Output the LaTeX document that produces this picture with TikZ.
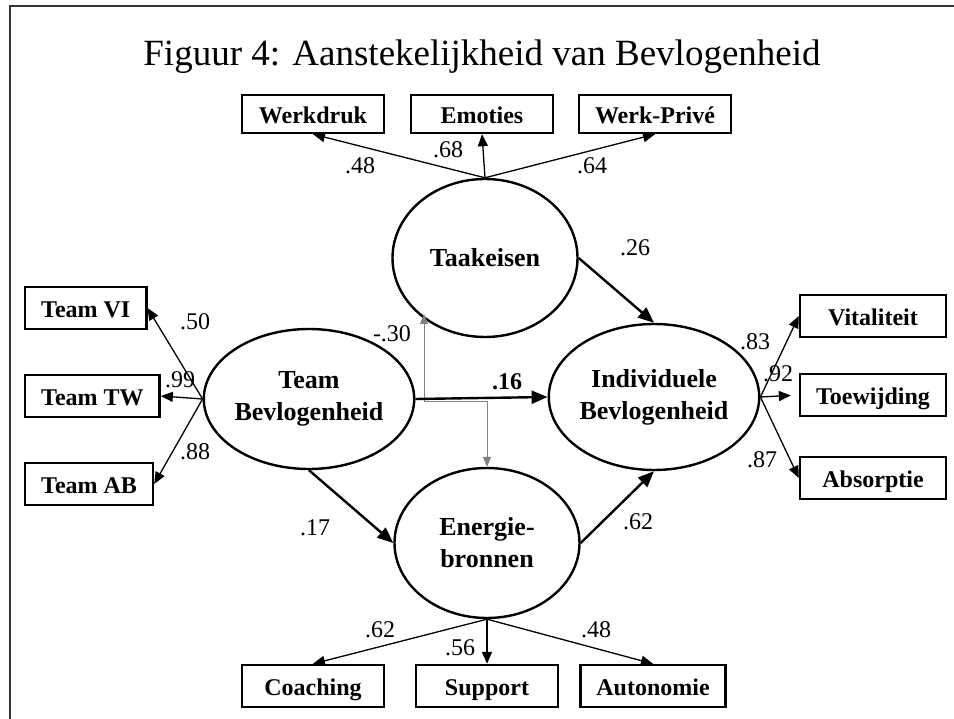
\documentclass[tikz,border=0pt]{standalone}
\usepackage{fontspec}
\setmainfont{Liberation Serif}
\usetikzlibrary{shapes.geometric,arrows.meta}

\begin{document}
\begin{tikzpicture}[x=1pt,y=-1pt,
    latent/.style={ellipse,draw,line width=2.4pt,minimum width=185pt,inner sep=0pt,
      align=center,font=\fontsize{26}{32}\selectfont\bfseries},
    indicator/.style={rectangle,draw,line width=2.4pt,minimum height=42pt,inner xsep=16pt,
      inner ysep=4pt,text height=21pt,text depth=2pt,font=\fontsize{24}{26}\selectfont\bfseries},
    load/.style={-{Triangle[length=12pt,width=10pt]},line width=1.3pt},
    padpijl/.style={-{Triangle[length=16pt,width=13pt]},line width=2.4pt},
    covar/.style={{Triangle[length=10pt,width=8pt]}-{Triangle[length=10pt,width=8pt]},
      line width=0.9pt,gray},
    coef/.style={font=\fontsize{24}{26}\selectfont,inner sep=0pt}]

    \useasboundingbox (0,0) rectangle (954,719);

    % Kader en titel
    \draw[line width=1.5pt,black!80] (10,719) -- (10,6) -- (954,6);
    \node[font=\fontsize{37}{40}\selectfont,anchor=base] (titel) at (482,66)
        {Figuur 4: Aanstekelijkheid van Bevlogenheid};

    % Latente variabelen
    \node[latent,minimum height=158pt] (taak) at (485,258) {Taakeisen};
    \node[latent,minimum height=140pt] (team) at (309,399) {Team\\Bevlogenheid};
    \node[latent,minimum height=146pt] (indiv) at (654,397) {Individuele\\Bevlogenheid};
    \node[latent,minimum height=150pt] (energie) at (487,543) {Energie-\\bronnen};

    % Indicatoren boven
    \foreach \name/\txt/\x in {werkdruk/Werkdruk/313, emoties/Emoties/482, werkprive/Werk-Privé/655} {
        \node[indicator,minimum height=38pt,minimum width=142pt] (\name) at (\x,114) {\txt};
        \draw[load] (taak.north) -- (\name.south);
    }

    % Indicatoren links
    \foreach \name/\txt/\y in {teamvi/Team VI/308, teamtw/Team TW/396, teamab/Team AB/484} {
        \node[indicator,anchor=west] (\name) at (24,\y) {\txt};
        \draw[load] (team.west) -- (\name.east);
    }

    % Indicatoren rechts
    \foreach \name/\txt/\y in {vitaliteit/Vitaliteit/316, toewijding/Toewijding/395, absorptie/Absorptie/478} {
        \node[indicator,minimum width=146pt] (\name) at (873,\y) {\txt};
    }
    \draw[load] (indiv.east) -- (vitaliteit.west);
    \draw[load,shorten >=8pt] (indiv.east) -- (toewijding.west);
    \draw[load] (indiv.east) -- (absorptie.west);

    % Indicatoren onder
    \foreach \name/\txt/\x in {coaching/Coaching/313, support/Support/487, autonomie/Autonomie/653} {
        \node[indicator,minimum width=142pt] (\name) at (\x,686) {\txt};
        \draw[load] (energie.south) -- (\name.north);
    }

    % Covariantie Taakeisen - Energiebronnen
    \coordinate (taakvoet) at (424,314);
    \coordinate (knik) at (424,401);
    \draw[covar] (taakvoet) -- (knik) -| (energie.north);

    % Structurele paden
    \draw[padpijl] (taak.east) -- (indiv.north);
    \draw[padpijl] (team.east) -- (indiv.west);
    \draw[padpijl] (team.south) -- (energie.west);
    \draw[padpijl] (energie.east) -- (indiv.south);

    % Coefficienten
    \node[coef] (c48) at (360,166) {.48};
    \node[coef] (c68) at (448,150) {.68};
    \node[coef] (c64) at (592,166) {.64};
    \node[coef] (c26) at (635,248) {.26};
    \node[coef] (c50) at (195,322) {.50};
    \node[coef] (c99) at (180,380) {.99};
    \node[coef] (c88) at (195,452) {.88};
    \node[coef] (c30) at (392,334) {-.30};
    \node[coef,font=\fontsize{24}{26}\selectfont\bfseries] (c16) at (507,382) {.16};
    \node[coef] (c83) at (755,342) {.83};
    \node[coef] (c92) at (778,374) {.92};
    \node[coef] (c87) at (762,460) {.87};
    \node[coef] (c17) at (315,528) {.17};
    \node[coef] (c62r) at (638,522) {.62};
    \node[coef] (c62) at (380,630) {.62};
    \node[coef] (c56) at (460,648) {.56};
    \node[coef] (c48o) at (596,630) {.48};
\end{tikzpicture}
\end{document}
